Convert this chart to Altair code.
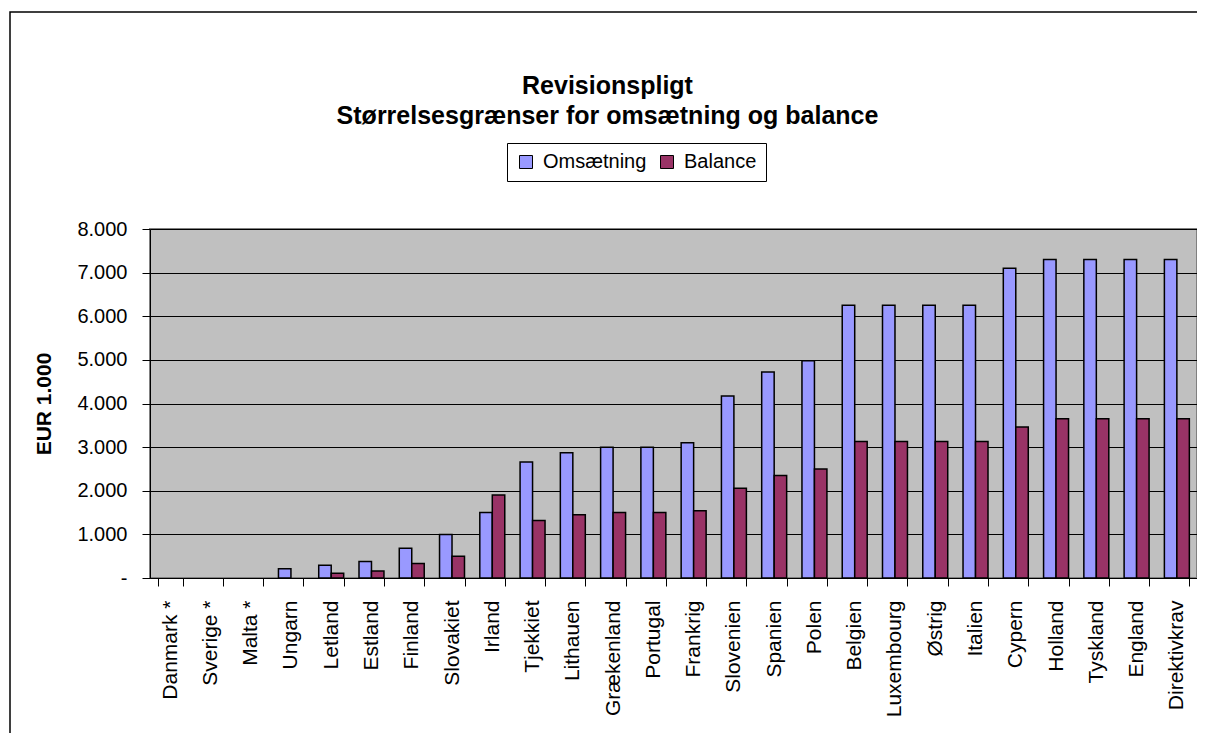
import altair as alt
import pandas as pd

countries = ["Danmark *", "Sverige *", "Malta *", "Ungarn", "Letland", "Estland",
             "Finland", "Slovakiet", "Irland", "Tjekkiet", "Lithauen", "Grækenland",
             "Portugal", "Frankrig", "Slovenien", "Spanien", "Polen", "Belgien",
             "Luxembourg", "Østrig", "Italien", "Cypern", "Holland", "Tyskland",
             "England", "Direktivkrav"]
omsaetning = [0, 0, 0, 210, 290, 380, 680, 1000, 1500, 2660, 2870, 3000,
              3000, 3100, 4170, 4720, 4980, 6250, 6250, 6250, 6250, 7100,
              7300, 7300, 7300, 7300]
balance = [0, 0, 0, 0, 110, 160, 330, 500, 1900, 1320, 1450, 1500,
           1500, 1540, 2060, 2350, 2500, 3130, 3130, 3130, 3130, 3460,
           3650, 3650, 3650, 3650]
series = ["Omsætning", "Balance"]
colors = ["#9999FF", "#993366"]
y_ticks = [0, 1000, 2000, 3000, 4000, 5000, 6000, 7000, 8000]

rows = []
for c, o, b in zip(countries, omsaetning, balance):
    rows.append({"land": c, "serie": series[0], "vaerdi": o})
    rows.append({"land": c, "serie": series[1], "vaerdi": b})
df = pd.DataFrame(rows)

FONT = "Liberation Sans"
W, H = 1047, 349

frame = alt.Chart(pd.DataFrame({"a": [0]})).mark_rect(
    fill="transparent", stroke="#000000", strokeWidth=1.5
).encode(
    x=alt.value(-140), x2=alt.value(W + 60),
    y=alt.value(-217), y2=alt.value(H + 400)
)

bars = alt.Chart(df).transform_filter(
    "datum.vaerdi > 0"
).mark_bar(stroke="#000000", strokeWidth=1.5).encode(
    x=alt.X("land:N", sort=countries, title=None,
            scale=alt.Scale(domain=countries, paddingInner=0.38, paddingOuter=0.19),
            axis=alt.Axis(labelAngle=270, labelFontSize=21, labelFont=FONT,
                          labelColor="#000000", tickBand="extent", tickSize=8,
                          tickColor="#000000", domainColor="#000000",
                          labelPadding=14, grid=False, labelOverlap=False)),
    xOffset=alt.XOffset("serie:N", sort=series,
                        scale=alt.Scale(domain=series, paddingInner=0, paddingOuter=0)),
    y=alt.Y("vaerdi:Q", title="EUR 1.000",
            scale=alt.Scale(domain=[0, 8000], nice=False),
            axis=alt.Axis(values=y_ticks, labelFontSize=20, labelFont=FONT,
                          labelColor="#000000", tickSize=8, tickColor="#000000",
                          domainColor="#000000", labelPadding=15,
                          gridColor="#000000", gridWidth=1, gridOpacity=1,
                          titleFontSize=21, titleFont=FONT, titleFontWeight="bold",
                          titleColor="#000000", titlePadding=22,
                          labelExpr="datum.value == 0 ? '-\u00a0\u00a0\u00a0\u00a0' : replace(format(datum.value, ','), ',', '.')")),
    color=alt.Color("serie:N", sort=series,
                    scale=alt.Scale(domain=series, range=colors),
                    legend=alt.Legend(title=None, orient="none", legendX=357, legendY=-86,
                                      direction="horizontal", strokeColor="#000000",
                                      fillColor="#FFFFFF", padding=9,
                                      labelFontSize=20, labelFont=FONT, labelColor="#000000",
                                      symbolType="square", symbolSize=169,
                                      symbolStrokeColor="#000000", symbolStrokeWidth=1,
                                      symbolOpacity=1, labelOffset=7, columnPadding=10))
)

chart = alt.layer(frame, bars).properties(
    width=W, height=H,
    padding={"left": 142, "top": 221, "right": 0, "bottom": 155},
    autosize=alt.AutoSizeParams(type="none"),
    title=alt.TitleParams(
        text=["Revisionspligt", "Størrelsesgrænser for omsætning og balance"],
        fontSize=25, font=FONT, fontWeight="bold", color="#000000",
        anchor="middle", frame="group", dx=-66, lineHeight=30, offset=-118
    ),
    background="#FFFFFF"
).configure_view(
    fill="#C0C0C0", stroke="#808080", strokeWidth=2
)

chart.save("out.html", embed_options={"renderer": "svg", "actions": False})
